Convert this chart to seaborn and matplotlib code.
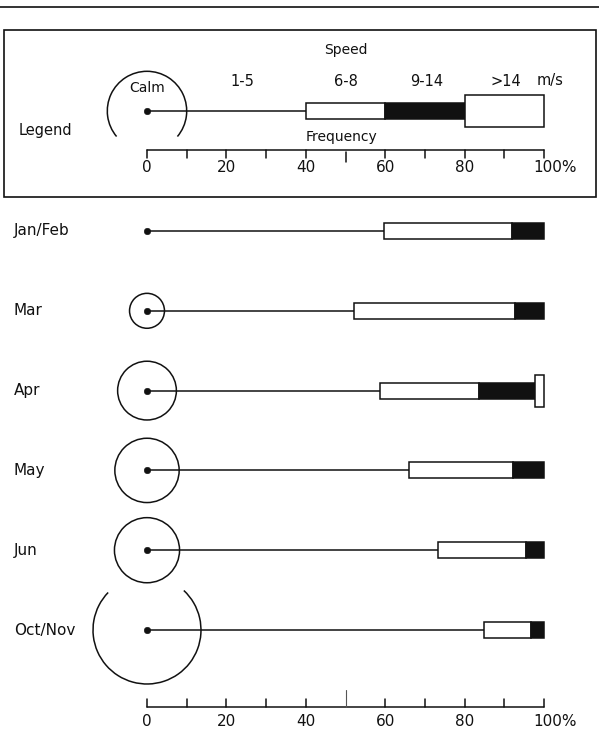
import numpy as np
import pandas as pd
import matplotlib
matplotlib.use('Agg')
import matplotlib.pyplot as plt
from matplotlib.patches import Arc, Circle, Rectangle
import seaborn as sns

months = ['Jan/Feb', 'Mar', 'Apr', 'May', 'Jun', 'Oct/Nov']
calm_radius = [0.0, 4.4, 7.4, 8.1, 8.2, 13.6]
freq_1_5 = [59.7, 52.1, 58.8, 66.1, 73.4, 84.9]   # cumulative from 0, incl. calm
freq_6_8 = [32.2, 40.6, 24.9, 26.0, 22.1, 11.9]
freq_9_14 = [8.1, 7.3, 14.0, 7.9, 4.5, 3.2]
freq_gt14 = [0.0, 0.0, 2.3, 0.0, 0.0, 0.0]

legend_calm_radius = 10.0
legend_freq = [40, 20, 20, 20]
speed_labels = ['1-5', '6-8', '9-14', '>14']
freq_ticks = [0, 20, 40, 60, 80, 100]

PX = 3.97          # pixels per percent
W, H = 599, 730
INK = '#111111'


def u(p):
    return p / PX


sns.set_theme(style='white')
plt.rcParams['font.family'] = ['DejaVu Sans']

fig = plt.figure(figsize=(W / 100, H / 100), dpi=100)
ax = fig.add_axes([0, 0, 1, 1])
x_left = -u(147)

bar_h = u(16)
tall_h = u(32)
lw = 1.1


def draw_bar(y, start, w68, w914, wgt, radius, arc=None):
    ax.plot([0, start], [y, y], color=INK, lw=lw, zorder=2)
    ax.barh(y, w68, left=start, height=bar_h, color='white', edgecolor=INK, lw=lw, zorder=3)
    ax.barh(y, w914, left=start + w68, height=bar_h, color=INK, edgecolor=INK, lw=lw, zorder=3)
    if wgt > 0:
        ax.barh(y, wgt, left=start + w68 + w914, height=tall_h, color='white',
                edgecolor=INK, lw=lw, zorder=4)
    if radius > 0:
        if arc is None:
            ax.add_patch(Circle((0, y), radius, fill=False, ec=INK, lw=lw, zorder=2))
        else:
            ax.add_patch(Arc((0, y), 2 * radius, 2 * radius, theta1=arc[0], theta2=arc[1],
                             ec=INK, lw=lw, zorder=2))


def draw_scale(y, up, labels_y):
    ax.plot([0, 100], [y, y], color=INK, lw=lw)
    ticks = np.arange(0, 101, 10)
    sign = -1 if up else 1
    for t in ticks:
        if t == 50:
            if up:
                ax.plot([t, t], [y, y - u(17)], color='#555555', lw=0.8)
            else:
                ax.plot([t, t], [y + u(2), y + u(12)], color=INK, lw=lw)
        else:
            ax.plot([t, t], [y, y + sign * u(8)], color=INK, lw=lw)
    for t in freq_ticks:
        if t == 100:
            ax.text(t - 2.6, labels_y, '100%', ha='left', va='center', fontsize=11, color=INK)
        else:
            ax.text(t, labels_y, str(t), ha='center', va='center', fontsize=11, color=INK)


# top rule and legend frame
ax.plot([x_left, x_left + u(W)], [u(7), u(7)], color=INK, lw=1.2)
ax.add_patch(Rectangle((x_left + u(4.5), u(30)), u(591.5), u(167), fill=False, ec=INK, lw=1.2))

# legend
ly = u(111)
lstart = legend_freq[0]
draw_bar(ly, lstart, legend_freq[1], legend_freq[2], 0, legend_calm_radius, arc=(140, 400))
ax.barh(ly, legend_freq[3], left=sum(legend_freq[:3]), height=tall_h, color='white',
        edgecolor=INK, lw=lw, zorder=4)
sns.scatterplot(x=[0], y=[ly], s=22, color=INK, edgecolor=INK, ax=ax, zorder=5, legend=False)
ax.text(50, u(50), 'Speed', ha='center', va='center', fontsize=10, color=INK)
ax.text(0, u(88), 'Calm', ha='center', va='center', fontsize=10, color=INK)
bin_centres = [24, 50, 70.5, 90.5]
for xc, lab in zip(bin_centres, speed_labels):
    ax.text(xc, u(81), lab, ha='center', va='center', fontsize=10.5, color=INK)
ax.text(101.5, u(81), 'm/s', ha='center', va='center', fontsize=10.5, color=INK)
ax.text(49, u(137), 'Frequency', ha='center', va='center', fontsize=10, color=INK)
ax.text(x_left + u(19), u(131), 'Legend', ha='left', va='center', fontsize=10.5, color=INK)
draw_scale(u(150), up=False, labels_y=u(168))

# month rows
rows = u(231) + np.arange(len(months)) * u(79.8)
df = pd.DataFrame({'month': months, 'y': rows, 'x': 0.0})
for i, m in enumerate(months):
    arc = (-47, 224) if m == 'Oct/Nov' else None
    draw_bar(rows[i], freq_1_5[i], freq_6_8[i], freq_9_14[i], freq_gt14[i], calm_radius[i], arc)
    ax.text(x_left + u(14), rows[i], m, ha='left', va='center', fontsize=11, color=INK)
sns.scatterplot(data=df, x='x', y='y', s=22, color=INK, edgecolor=INK, ax=ax, zorder=5,
                legend=False)

draw_scale(u(707), up=True, labels_y=u(721))

ax.set_xlim(x_left, x_left + u(W))
ax.set_ylim(u(H), 0)
ax.axis('off')

fig.savefig('out.png', dpi=100)
